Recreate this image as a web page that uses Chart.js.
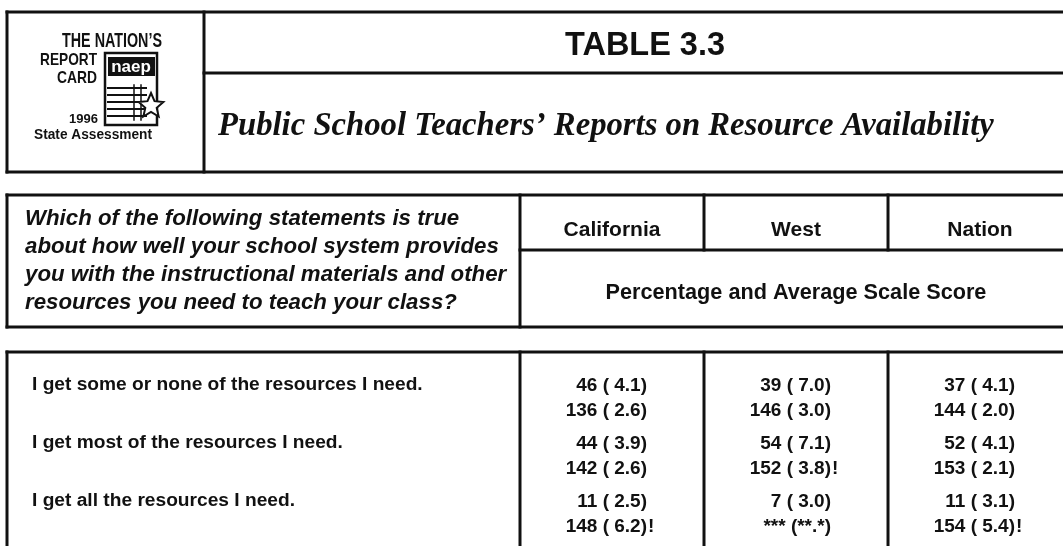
<!DOCTYPE html>
<html>
<head>
<meta charset="utf-8">
<title>Table 3.3</title>
<script src="https://cdn.jsdelivr.net/npm/chart.js@4.4.1/dist/chart.umd.min.js"></script>
<style>
  html, body { margin: 0; padding: 0; background: #fff; }
  canvas { display: block; }
</style>
</head>
<body>
<canvas id="table_chart" width="1063" height="546"></canvas>
<script>
// table 3.3 - teachers' reports on resource availability

const columns = ['California', 'West', 'Nation'];
const statements = [
    'I get some or none of the resources I need.',
    'I get most of the resources I need.',
    'I get all the resources I need.'
];
const questionLines = [
    'Which of the following statements is true',
    'about how well your school system provides',
    'you with the instructional materials and other',
    'resources you need to teach your class?'
];

const caPct = [46, 44, 11];
const caPctSe = [4.1, 3.9, 2.5];
const caScore = [136, 142, 148];
const caScoreSe = [2.6, 2.6, 6.2];
const caFlag = [false, false, true];

const westPct = [39, 54, 7];
const westPctSe = [7.0, 7.1, 3.0];
const westScore = [146, 152, null];
const westScoreSe = [3.0, 3.8, null];
const westFlag = [false, true, false];

const natPct = [37, 52, 11];
const natPctSe = [4.1, 4.1, 3.1];
const natScore = [144, 153, 154];
const natScoreSe = [2.0, 2.1, 5.4];
const natFlag = [false, false, true];

const SANS = '"Liberation Sans", Arial, sans-serif';
const SERIF = '"Liberation Serif", "Times New Roman", serif';
const INK = '#111';

function fmt(v, se) {
    if (v == null) return '*** (**.*)';
    return v + ' ( ' + se.toFixed(1) + ')';
}

// one cell per column/row, values formatted from the arrays above
let cells = [];
let colData = [
    [caPct, caPctSe, caScore, caScoreSe, caFlag],
    [westPct, westPctSe, westScore, westScoreSe, westFlag],
    [natPct, natPctSe, natScore, natScoreSe, natFlag]
];
for (let c = 0; c < columns.length; c++) {
    for (let r = 0; r < statements.length; r++) {
        let d = colData[c];
        cells.push({
            x: c,
            y: r,
            top: fmt(d[0][r], d[1][r]),
            bottom: fmt(d[2][r], d[3][r]),
            flag: d[4][r]
        });
    }
}

function line(ctx, x1, y1, x2, y2, w) {
    ctx.lineWidth = w || 3;
    ctx.beginPath();
    ctx.moveTo(x1, y1);
    ctx.lineTo(x2, y2);
    ctx.stroke();
}

// font size so that text is exactly `width` wide
function fitFont(ctx, text, style, family, width) {
    ctx.font = style + ' 20px ' + family;
    let w = ctx.measureText(text).width;
    return style + ' ' + (20 * width / w).toFixed(2) + 'px ' + family;
}

function star(ctx, cx, cy, ro, ri) {
    ctx.save();
    ctx.beginPath();
    for (let i = 0; i < 10; i++) {
        let a = -Math.PI / 2 + i * Math.PI / 5;
        let r = i % 2 ? ri : ro;
        let px = cx + r * Math.cos(a), py = cy + r * Math.sin(a);
        if (i == 0) ctx.moveTo(px, py); else ctx.lineTo(px, py);
    }
    ctx.closePath();
    ctx.fillStyle = '#fff';
    ctx.fill();
    ctx.lineWidth = 2;
    ctx.stroke();
    ctx.restore();
}

const tablePlugin = {
    id: 'tablePlugin',
    afterDraw(chart) {
        const ctx = chart.ctx;
        const xs = chart.scales.x;
        const ys = chart.scales.y;
        const W = chart.width;
        const area = chart.chartArea;
        ctx.save();
        ctx.strokeStyle = INK;
        ctx.fillStyle = INK;
        ctx.lineCap = 'square';

        // ---- title box
        line(ctx, 7, 12, W, 12);
        line(ctx, 7, 12, 7, 172);
        line(ctx, 7, 172, W, 172);
        line(ctx, 204, 12, 204, 172);
        line(ctx, 204, 73, W, 73);

        ctx.textAlign = 'center';
        ctx.textBaseline = 'alphabetic';
        ctx.font = 'bold 33px ' + SANS;
        ctx.fillText('TABLE 3.3', 645, 55, 160);

        ctx.textAlign = 'left';
        ctx.font = fitFont(ctx, 'Public School Teachers\u2019 Reports on Resource Availability', 'italic bold', SERIF, 776);
        ctx.fillText('Public School Teachers\u2019 Reports on Resource Availability', 218, 135);

        // ---- naep logo
        ctx.textAlign = 'right';
        ctx.font = 'bold 20px ' + SANS;
        ctx.fillText('THE NATION\u2019S', 162, 47, 100);
        ctx.font = 'bold 17px ' + SANS;
        ctx.fillText('REPORT', 97, 65, 57);
        ctx.fillText('CARD', 97, 83, 40);
        ctx.font = 'bold 13px ' + SANS;
        ctx.fillText('1996', 98, 123, 30);
        ctx.textAlign = 'left';
        ctx.font = 'bold 14px ' + SANS;
        ctx.fillText('State Assessment', 34, 139, 118);

        ctx.lineWidth = 2.5;
        ctx.strokeRect(105, 53, 52, 72);
        ctx.fillRect(108, 57, 47, 19);
        ctx.fillStyle = '#fff';
        ctx.textAlign = 'center';
        ctx.font = 'bold 17px ' + SANS;
        ctx.fillText('naep', 131, 72, 44);
        ctx.fillStyle = INK;
        [88, 95, 102, 109, 116].forEach(function (y) {
            line(ctx, 108, y, 146, y, 2);
        });
        line(ctx, 134, 85, 134, 120, 1.5);
        line(ctx, 141, 85, 141, 120, 1.5);
        star(ctx, 151, 106, 13, 6);
        ctx.fillStyle = INK;

        // ---- column header box
        const colLeft = xs.getPixelForValue(-0.5);
        line(ctx, 7, 195, W, 195);
        line(ctx, 7, 195, 7, 327);
        line(ctx, 7, 327, W, 327);
        line(ctx, colLeft, 195, colLeft, 327);
        line(ctx, colLeft, 250, W, 250);
        for (let c = 0; c < columns.length - 1; c++) {
            let x = xs.getPixelForValue(c + 0.5);
            line(ctx, x, 195, x, 250);
        }

        ctx.textAlign = 'left';
        ctx.font = fitFont(ctx, questionLines[1], 'italic bold', SANS, 474);
        questionLines.forEach(function (t, i) {
            ctx.fillText(t, 25, 225 + i * 28);
        });

        ctx.textAlign = 'center';
        ctx.font = 'bold 21px ' + SANS;
        columns.forEach(function (name, c) {
            ctx.fillText(name, xs.getPixelForValue(c), 236);
        });
        const spanMid = (colLeft + xs.getPixelForValue(2.5)) / 2;
        ctx.font = fitFont(ctx, 'Percentage and Average Scale Score', 'bold', SANS, 381);
        ctx.fillText('Percentage and Average Scale Score', spanMid, 299);

        // ---- data box
        line(ctx, 7, area.top, W, area.top);
        line(ctx, 7, area.top, 7, area.bottom + 5);
        for (let c = -1; c < columns.length - 1; c++) {
            let x = xs.getPixelForValue(c + 0.5);
            line(ctx, x, area.top, x, area.bottom + 5);
        }

        ctx.textAlign = 'left';
        ctx.font = fitFont(ctx, statements[0], 'bold', SANS, 391);
        statements.forEach(function (s, r) {
            ctx.fillText(s, 32, ys.getPixelForValue(r) + 6);
        });

        const meta = chart.getDatasetMeta(0);
        ctx.font = 'bold 19px ' + SANS;
        meta.data.forEach(function (pt, k) {
            let cell = chart.data.datasets[0].data[k];
            let right = pt.x + 35;
            ctx.textAlign = 'right';
            ctx.fillText(cell.top, right, pt.y + 7);
            ctx.fillText(cell.bottom, right, pt.y + 32);
            if (cell.flag) {
                ctx.textAlign = 'left';
                ctx.fillText('!', right + 1, pt.y + 32);
            }
        });
        ctx.restore();
    }
};

let ctx = document.getElementById('table_chart');
let table_chart = new Chart(ctx, {
    type: 'scatter',
    data: {
        datasets: [{
            label: 'cells',
            data: cells,
            pointRadius: 0,
            pointHoverRadius: 0
        }]
    },
    options: {
        responsive: false,
        animation: false,
        devicePixelRatio: 1,
        events: [],
        layout: {
            padding: { left: 520, top: 352, right: 0, bottom: 0 }
        },
        scales: {
            x: { type: 'linear', min: -0.5, max: 2.451, display: false },
            y: { type: 'linear', reverse: true, min: -0.552, max: 2.793, display: false }
        },
        plugins: {
            legend: { display: false },
            tooltip: { enabled: false }
        }
    },
    plugins: [tablePlugin]
});
</script>
</body>
</html>
